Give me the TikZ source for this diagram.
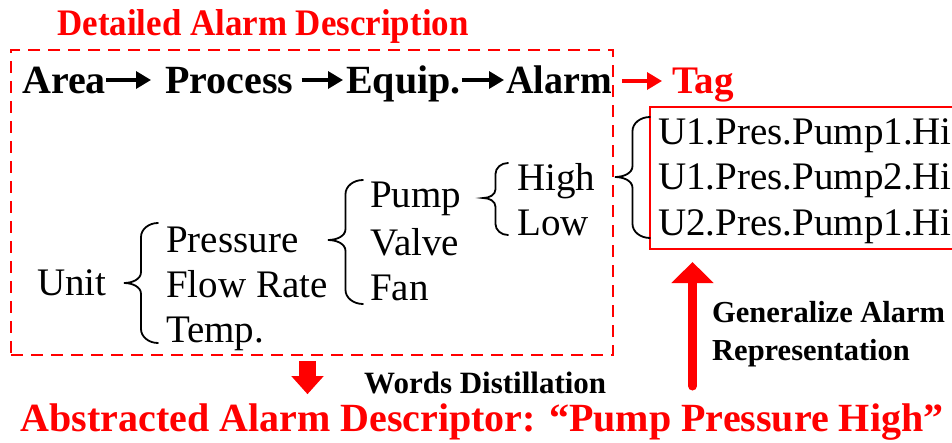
\documentclass[tikz,border=0pt]{standalone}
\usepackage{fontspec}
\setmainfont{Liberation Serif}
\usetikzlibrary{arrows.meta,calc}
\definecolor{alarmred}{RGB}{255,0,0}
\newcommand\fsz[1]{\fontsize{#1}{#1}\selectfont}
\newcommand\curlybrace[5]{% back x, tip x, top y, tip y, bottom y
  \pgfmathsetmacro\cbm{(#1+#2)/2}%
  \pgfmathsetmacro\cbd{(#1-#2)/2}%
  \pgfmathsetmacro\cbr{min(14,(#4-#3)/3.2)}%
  \pgfmathsetmacro\cbq{min(11,(#4-#3)/4)}%
  \draw[bracestyle] (#1,#3)
    .. controls (\cbm+0.45*\cbd,#3) and (\cbm,#3+0.45*\cbr) .. (\cbm,#3+\cbr)
    -- (\cbm,#4-\cbq)
    .. controls (\cbm,#4-0.35*\cbq) and (\cbm-0.5*\cbd,#4) .. (#2,#4)
    .. controls (\cbm-0.5*\cbd,#4) and (\cbm,#4+0.35*\cbq) .. (\cbm,#4+\cbq)
    -- (\cbm,#5-\cbr)
    .. controls (\cbm,#5-0.45*\cbr) and (\cbm+0.45*\cbd,#5) .. (#1,#5);}
\begin{document}
\begin{tikzpicture}[x=1pt,y=-1pt,
  txt/.style={inner sep=0pt, anchor=base west, font={\fsz{39}}},
  mainw/.style={inner sep=0pt, anchor=base west, font={\fsz{40}\bfseries}},
  lbl/.style={inner sep=0pt, anchor=base west, font={\fsz{30.5}\bfseries}},
  redtitle/.style={inner sep=0pt, anchor=base, text=alarmred, font={\fsz{36}\bfseries}},
  bracestyle/.style={draw=black, line width=1.8pt, line cap=round},
  blkarr/.style={draw=black, line width=3.4pt, -{Triangle[length=15pt,width=17pt]}},
  redarr/.style={draw=alarmred, line width=3.4pt, -{Triangle[length=15pt,width=17pt]}},
  dashbox/.style={draw=alarmred, line width=2.4pt, dash pattern=on 12pt off 8pt, inner sep=0pt, minimum width=602pt, minimum height=305pt},
  tagboxstyle/.style={draw=alarmred, line width=2pt, inner sep=0pt, minimum width=304pt, minimum height=142pt},
  downarr/.style={draw=alarmred, line width=17pt, -{Triangle[length=18pt,width=31pt]}},
  uparr/.style={draw=alarmred, line width=9pt, line cap=round, -{Triangle[length=21pt,width=41pt]}}
]
\useasboundingbox (0,0) rectangle (952,442);

% detailed description box and title
\node[dashbox] (detail) at (312,202.5) {};
\node[redtitle] (title) at (263,35) {\scalebox{0.97}[1.04]{Detailed Alarm Description}};

% hierarchy row
\node[mainw] (area) at (22,93) {Area};
\node[mainw] (process) at (165,93) {Process};
\node[mainw] (equip) at (346,93) {Equip.};
\node[mainw] (alarm) at (506,93) {\scalebox{0.95}[1]{Alarm}};
\node[inner sep=0pt, anchor=base west, text=alarmred, font={\fsz{39}\bfseries}] (tag) at (672,93) {Tag};
\draw[blkarr, shorten >=14pt] ([yshift=13pt]area.base east) -- ([yshift=13pt]process.base west);
\draw[blkarr, shorten <=8pt, shorten >=3pt] ([yshift=13pt]process.base east) -- ([yshift=13pt]equip.base west);
\draw[blkarr, shorten <=1pt, shorten >=2pt] ([yshift=13pt]equip.base east) -- ([yshift=13pt]alarm.base west);
\draw[redarr, shorten <=10pt, shorten >=10pt] ([yshift=12pt]alarm.base east) -- ([yshift=12pt]tag.base west);

% tree
\node[txt] (unit) at (37,295) {Unit};
\node[txt] (pressure) at (166,252) {Pressure};
\node[txt] (flow) at (166,297) {Flow Rate};
\node[txt] (temp) at (166,342) {Temp.};
\node[txt] (pump) at (370,207) {Pump};
\node[txt] (valve) at (370,255) {Valve};
\node[txt] (fan) at (370,300) {Fan};
\node[txt] (high) at (517,190) {High};
\node[txt] (low) at (517,235) {Low};
\curlybrace{158}{124}{223}{283}{343}
\curlybrace{363}{328}{180}{240}{304}
\curlybrace{508}{483}{163}{198}{235}

% tag box
\node[tagboxstyle] (tagbox) at (802,178) {};
\node[txt] (t1) at (658,144) {U1.Pres.Pump1.Hi};
\node[txt] (t2) at (658,189) {U1.Pres.Pump2.Hi};
\node[txt] (t3) at (658,235) {U2.Pres.Pump1.Hi};
\curlybrace{650}{615}{117}{177}{238}

% abstraction
\node[inner sep=0pt, anchor=base, text=alarmred, font={\fsz{40}\bfseries}] (abstract) at (482,431) {Abstracted Alarm Descriptor: “Pump Pressure High”};
\draw[downarr] ([xshift=-4.5pt,yshift=-5pt]detail.south) -- ++(0,33);
\node[lbl, font={\fsz{31}\bfseries}] (distill) at (364,393) {Words Distillation};

\coordinate (upstart) at (692.5,386);
\draw[uparr, shorten >=12pt] (upstart) -- (upstart |- tagbox.south);
\node[lbl] (gen1) at (712,322) {Generalize Alarm};
\node[lbl] (gen2) at (712,360) {Representation};
\end{tikzpicture}
\end{document}
